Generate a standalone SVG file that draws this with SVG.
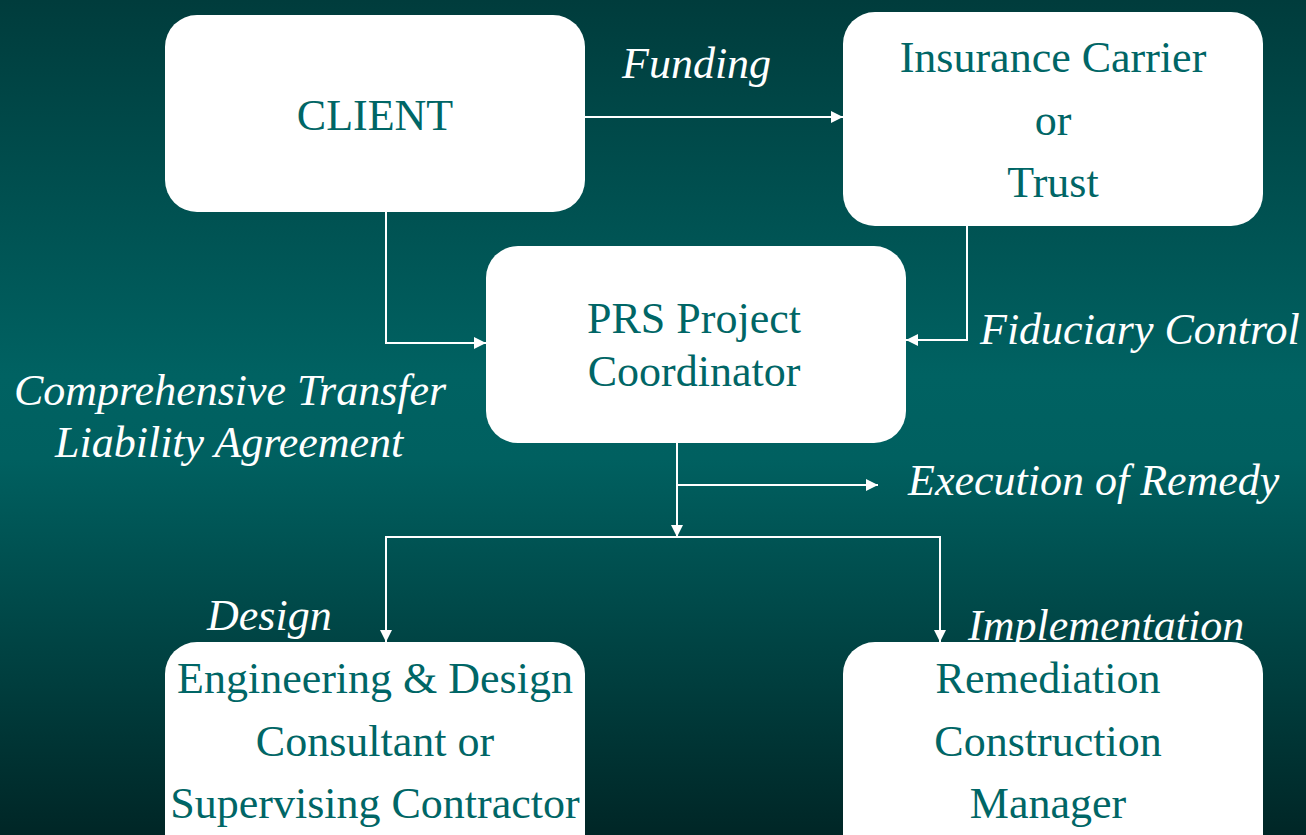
<svg xmlns="http://www.w3.org/2000/svg" width="1306" height="835" viewBox="0 0 1306 835">
<defs>
<linearGradient id="bg" x1="0" y1="0" x2="0" y2="1">
<stop offset="0" stop-color="#003c3c"/>
<stop offset="0.45" stop-color="#006262"/>
<stop offset="0.55" stop-color="#006060"/>
<stop offset="1" stop-color="#002626"/>
</linearGradient>
<marker id="ah" viewBox="0 0 10 10" refX="10" refY="5" markerWidth="12" markerHeight="12" markerUnits="userSpaceOnUse" orient="auto">
<path d="M0,0 L10,5 L0,10 z" fill="#ffffff"/>
</marker>
<style>
.node{fill:#ffffff;}
.nt{font-family:"Liberation Serif","Times New Roman",serif;font-size:44px;fill:#006666;text-anchor:middle;}
.lbl{font-family:"Liberation Serif","Times New Roman",serif;font-size:44px;font-style:italic;fill:#ffffff;}
.c{fill:none;stroke:#ffffff;stroke-width:2;}
</style>
</defs>
<rect x="0" y="0" width="1306" height="835" fill="url(#bg)"/>
<g id="connectors">
<line class="c" x1="585" y1="117" x2="843" y2="117" marker-end="url(#ah)"/>
<polyline class="c" points="386,212 386,343 486,343" marker-end="url(#ah)"/>
<polyline class="c" points="967,226 967,340 906,340" marker-end="url(#ah)"/>
<line class="c" x1="677" y1="443" x2="677" y2="537" marker-end="url(#ah)"/>
<line class="c" x1="677" y1="485" x2="878" y2="485" marker-end="url(#ah)"/>
<polyline class="c" points="386,642 386,537 940,537 940,642"/>
<line class="c" x1="386" y1="600" x2="386" y2="642" marker-end="url(#ah)"/>
<line class="c" x1="940" y1="600" x2="940" y2="642" marker-end="url(#ah)"/>
</g>
<g id="labels">
<text class="lbl" x="622" y="78">Funding</text>
<text class="lbl" x="980" y="344">Fiduciary Control</text>
<text class="lbl" x="14" y="405">Comprehensive Transfer</text>
<text class="lbl" x="55" y="457">Liability Agreement</text>
<text class="lbl" x="908" y="495">Execution of Remedy</text>
<text class="lbl" x="207" y="630">Design</text>
</g>
<g id="client">
<rect class="node" x="165" y="15" width="420" height="197" rx="32"/>
<text class="nt" x="375" y="130">CLIENT</text>
</g>
<g id="insurance">
<rect class="node" x="843" y="12" width="420" height="214" rx="32"/>
<text class="nt" x="1053" y="72">Insurance Carrier</text>
<text class="nt" x="1053" y="135">or</text>
<text class="nt" x="1053" y="197">Trust</text>
</g>
<g id="prs">
<rect class="node" x="486" y="246" width="420" height="197" rx="32"/>
<text class="nt" x="694" y="333">PRS Project</text>
<text class="nt" x="694" y="386">Coordinator</text>
</g>
<g id="engineering">
<rect class="node" x="165" y="642" width="420" height="230" rx="32"/>
<text class="nt" x="375" y="693">Engineering &amp; Design</text>
<text class="nt" x="375" y="756">Consultant or</text>
<text class="nt" x="375" y="818">Supervising Contractor</text>
</g>
<g id="remediation">
<rect class="node" x="843" y="642" width="420" height="230" rx="32"/>
<text class="nt" x="1048" y="693">Remediation</text>
<text class="nt" x="1048" y="756">Construction</text>
<text class="nt" x="1048" y="818">Manager</text>
</g>
<text class="lbl" x="968" y="640">Implementation</text>
</svg>
